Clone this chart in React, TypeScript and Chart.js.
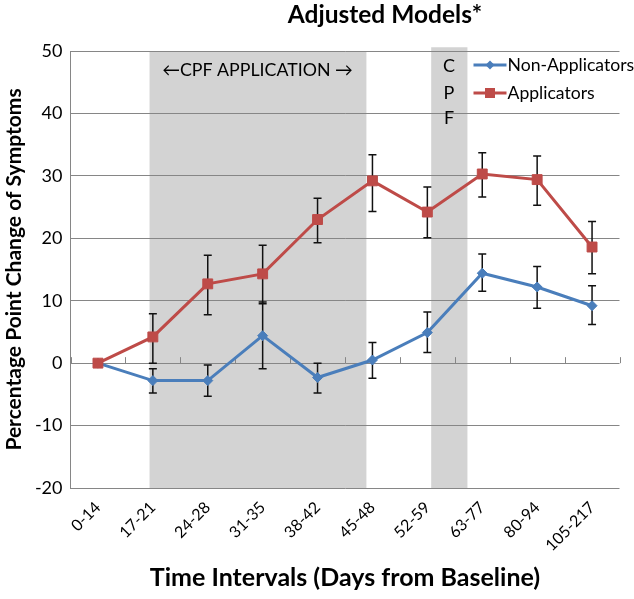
import React, { useEffect, useRef } from 'react';
import { Chart, registerables } from 'chart.js';

Chart.register(...registerables);

const categories = ['0-14', '17-21', '24-28', '31-35', '38-42', '45-48', '52-59', '63-77', '80-94', '105-217'];

const nonApplicators = [0, -2.8, -2.8, 4.4, -2.3, 0.5, 4.9, 14.4, 12.2, 9.2];
const nonApplicatorsLow = [null, -4.8, -5.3, -0.9, -4.8, -2.4, 1.7, 11.5, 8.8, 6.2];
const nonApplicatorsHigh = [null, -0.9, -0.3, 9.8, 0, 3.3, 8.2, 17.5, 15.5, 12.4];

const applicators = [0, 4.2, 12.7, 14.3, 23.0, 29.2, 24.2, 30.3, 29.4, 18.6];
const applicatorsLow = [null, 0, 7.75, 9.5, 19.3, 24.3, 20.1, 26.6, 25.3, 14.3];
const applicatorsHigh = [null, 7.9, 17.3, 18.9, 26.4, 33.4, 28.2, 33.7, 33.2, 22.7];

const yMin = -20;
const yMax = 50;
const yStep = 10;

// shaded exposure periods, in category-index units
const shadeFrom = [0.94, 6.07];
const shadeTo = [4.89, 6.73];
const shadeTop = [50, 50.6];

const FONT = 'Lato, "Open Sans", "DejaVu Sans", sans-serif';
const BLUE = '#4A7EBB';
const RED = '#BE4B48';
const GRID = '#868686';

const overlayPlugin = {
  id: 'overlay',
  beforeDraw(chart: any) {
    const { ctx, scales } = chart;
    const x = scales.x;
    const y = scales.y;
    ctx.save();
    ctx.fillStyle = '#D3D3D3';
    for (let i = 0; i < shadeFrom.length; i++) {
      const l = x.getPixelForValue(shadeFrom[i]);
      const r = x.getPixelForValue(shadeTo[i]);
      const t = y.getPixelForValue(shadeTop[i]);
      const b = y.getPixelForValue(yMin);
      ctx.fillRect(l, t, r - l, b - t);
    }
    ctx.restore();
  },
  beforeDatasetsDraw(chart: any) {
    const { ctx, scales } = chart;
    const x = scales.x;
    const y = scales.y;
    const y0 = y.getPixelForValue(0);
    ctx.save();
    // category tick marks on the zero line
    ctx.strokeStyle = GRID;
    ctx.lineWidth = 1;
    ctx.beginPath();
    for (let i = 0; i <= categories.length; i++) {
      const px = Math.round(x.getPixelForValue(i - 0.5)) + 0.5;
      ctx.moveTo(px, y0 - 6);
      ctx.lineTo(px, y0);
    }
    ctx.stroke();
    // error bars
    const drawErr = (lows: (number | null)[], highs: (number | null)[]) => {
      ctx.strokeStyle = '#111';
      ctx.lineWidth = 1.5;
      ctx.beginPath();
      for (let i = 0; i < categories.length; i++) {
        const lo = lows[i];
        const hi = highs[i];
        if (lo == null || hi == null) continue;
        const px = x.getPixelForValue(i);
        const pl = y.getPixelForValue(lo);
        const ph = y.getPixelForValue(hi);
        ctx.moveTo(px, pl);
        ctx.lineTo(px, ph);
        ctx.moveTo(px - 4, pl);
        ctx.lineTo(px + 4, pl);
        ctx.moveTo(px - 4, ph);
        ctx.lineTo(px + 4, ph);
      }
      ctx.stroke();
    };
    drawErr(nonApplicatorsLow, nonApplicatorsHigh);
    drawErr(applicatorsLow, applicatorsHigh);
    ctx.restore();
  },
  afterDraw(chart: any) {
    const { ctx, chartArea } = chart;
    ctx.save();
    ctx.fillStyle = '#000';
    ctx.textBaseline = 'middle';
    // title
    ctx.font = `bold 24.5px ${FONT}`;
    ctx.textAlign = 'center';
    ctx.fillText('Adjusted Models*', 385, 15);
    // shaded region annotations
    ctx.font = `17.8px ${FONT}`;
    ctx.fillText('\u2190CPF APPLICATION \u2192', 257.5, 70);
    ctx.font = `18px ${FONT}`;
    ctx.fillText('C', 449, 66);
    ctx.fillText('P', 449, 93);
    ctx.fillText('F', 449, 118);
    // legend
    const lx0 = chartArea.right - 146;
    const lx1 = lx0 + 33;
    const items = [
      { label: 'Non-Applicators', color: BLUE, style: 'diamond', y: 65 },
      { label: 'Applicators', color: RED, style: 'square', y: 93 },
    ];
    for (const it of items) {
      ctx.strokeStyle = it.color;
      ctx.lineWidth = 3;
      ctx.beginPath();
      ctx.moveTo(lx0, it.y);
      ctx.lineTo(lx1, it.y);
      ctx.stroke();
      ctx.fillStyle = it.color;
      const cx = (lx0 + lx1) / 2;
      ctx.beginPath();
      if (it.style === 'diamond') {
        ctx.moveTo(cx, it.y - 4.5);
        ctx.lineTo(cx + 4.5, it.y);
        ctx.lineTo(cx, it.y + 4.5);
        ctx.lineTo(cx - 4.5, it.y);
        ctx.closePath();
      } else {
        ctx.rect(cx - 5, it.y - 5, 10, 10);
      }
      ctx.fill();
      ctx.fillStyle = '#000';
      ctx.textAlign = 'left';
      ctx.font = `17.6px ${FONT}`;
      ctx.fillText(it.label, lx1 + 1, it.y);
    }
    ctx.restore();
  },
};

export default function App() {
  const ref = useRef<HTMLCanvasElement | null>(null);

  useEffect(() => {
    document.body.style.margin = '0';
    const canvas = ref.current;
    if (!canvas) return;
    const chart = new Chart(canvas, {
      type: 'line',
      data: {
        labels: categories,
        datasets: [
          {
            label: 'Applicators',
            data: applicators,
            borderColor: RED,
            backgroundColor: RED,
            borderWidth: 3,
            pointStyle: 'rect',
            pointRadius: 7,
            pointBackgroundColor: RED,
            pointBorderColor: RED,
            pointBorderWidth: 1,
            tension: 0,
            order: 0,
          },
          {
            label: 'Non-Applicators',
            data: nonApplicators,
            borderColor: BLUE,
            backgroundColor: BLUE,
            borderWidth: 3,
            pointStyle: 'rectRot',
            pointRadius: 5,
            pointBackgroundColor: BLUE,
            pointBorderColor: BLUE,
            pointBorderWidth: 1,
            tension: 0,
            order: 1,
          },
        ],
      },
      options: {
        responsive: false,
        animation: false,
        events: [],
        layout: { padding: { top: 51, right: 14.5, left: 0, bottom: 0 } },
        plugins: {
          legend: { display: false },
          tooltip: { enabled: false },
          title: { display: false },
        },
        scales: {
          x: {
            type: 'category',
            offset: true,
            grid: { display: false, drawTicks: false },
            border: { display: false },
            ticks: {
              minRotation: 45,
              maxRotation: 45,
              autoSkip: false,
              padding: 10,
              color: '#000',
              font: { family: FONT, size: 16 },
            },
            title: {
              display: true,
              text: 'Time Intervals (Days from Baseline)',
              color: '#000',
              font: { family: FONT, size: 25, weight: 'bold' },
              padding: { top: 0, bottom: 6 },
            },
            afterFit: (s: any) => {
              s.height = 111;
            },
          },
          y: {
            min: yMin,
            max: yMax,
            ticks: {
              stepSize: yStep,
              padding: 8,
              color: '#000',
              font: { family: FONT, size: 18 },
            },
            grid: { color: GRID, lineWidth: 1, drawTicks: false },
            border: { display: true, color: GRID, width: 1 },
            title: {
              display: true,
              text: 'Percentage Point Change of Symptoms',
              color: '#000',
              font: { family: FONT, size: 21, weight: 'bold' },
              padding: { top: 1.5, bottom: 0 },
            },
            afterFit: (s: any) => {
              s.width = 70.5;
            },
          },
        },
      },
      plugins: [overlayPlugin],
    } as any);
    return () => chart.destroy();
  }, []);

  return (
    <div style={{ width: 634, height: 599 }}>
      <canvas ref={ref} width={634} height={599} />
    </div>
  );
}
